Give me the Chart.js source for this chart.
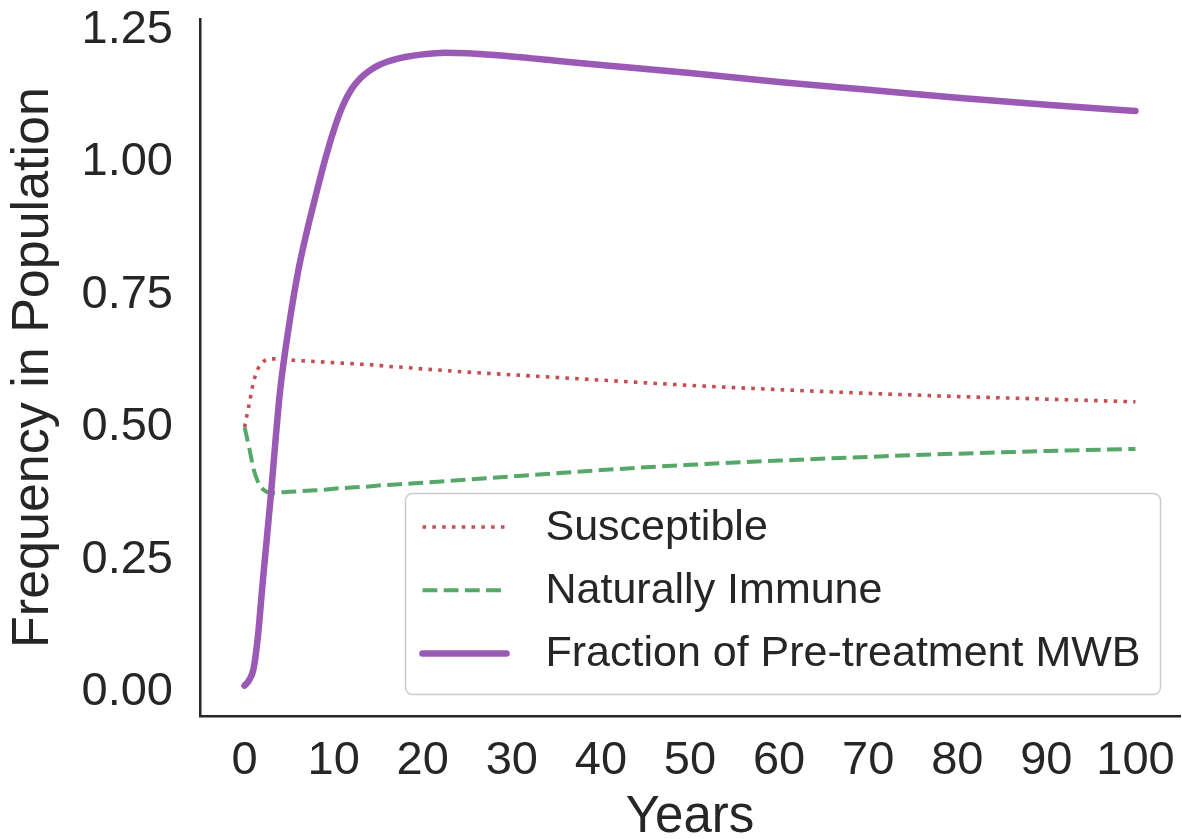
<!DOCTYPE html>
<html>
<head>
<meta charset="utf-8">
<script src="https://cdn.jsdelivr.net/npm/chart.js@4.4.1/dist/chart.umd.min.js"></script>
<style>
  html, body { margin: 0; padding: 0; background: #ffffff; overflow: hidden; }
  #wrap { width: 1182px; height: 839px; position: relative; }
</style>
</head>
<body>
<div id="wrap"><canvas id="chart"></canvas></div>
<script>
// Simulation output sampled over time (years)
const years = [0, 0.5, 1, 1.5, 2, 2.5, 3, 3.5, 4, 5, 6, 7, 8, 9, 10, 11, 12, 13, 14, 15, 16, 17, 18, 20, 22.5, 25, 30, 35, 40, 50, 60, 70, 80, 90, 100];

const susceptible = [0.5, 0.542, 0.585, 0.61, 0.622, 0.628, 0.629, 0.629, 0.628, 0.627, 0.626, 0.625, 0.624, 0.623, 0.622, 0.621, 0.62, 0.619, 0.618, 0.617, 0.615, 0.614, 0.613, 0.61, 0.607, 0.604, 0.599, 0.594, 0.589, 0.579, 0.571, 0.564, 0.558, 0.553, 0.548];

const naturallyImmune = [0.5, 0.463, 0.422, 0.397, 0.384, 0.378, 0.376, 0.376, 0.377, 0.378, 0.379, 0.38, 0.381, 0.382, 0.384, 0.385, 0.386, 0.387, 0.388, 0.39, 0.391, 0.392, 0.393, 0.395, 0.398, 0.401, 0.407, 0.413, 0.419, 0.429, 0.437, 0.444, 0.45, 0.455, 0.459];

const mwbFraction = [0.012, 0.022, 0.043, 0.105, 0.2, 0.29, 0.38, 0.48, 0.57, 0.693, 0.793, 0.87, 0.938, 1.003, 1.06, 1.106, 1.138, 1.159, 1.173, 1.183, 1.19, 1.195, 1.199, 1.204, 1.207, 1.206, 1.2, 1.192, 1.184, 1.169, 1.152, 1.137, 1.122, 1.109, 1.097];

const xTicks = [0, 10, 20, 30, 40, 50, 60, 70, 80, 90, 100];
const yTicks = [0, 0.25, 0.5, 0.75, 1.0, 1.25];

const seriesLabels = ['Susceptible', 'Naturally Immune', 'Fraction of Pre-treatment MWB'];

const ink = '#262626';
const FONT = "'Liberation Sans', Arial, Helvetica, sans-serif";

const toPoints = (vals) => years.map((t, i) => ({ x: t, y: vals[i] }));

// Legend drawn inside the plot area, lower right, matplotlib style
const boxLegend = {
  id: 'boxLegend',
  afterDraw(chart) {
    const { ctx, chartArea } = chart;
    const right = chartArea.right - 19.5;
    const bottom = chartArea.bottom - 21.5;
    const w = 755, h = 201;
    const left = right - w, top = bottom - h;
    ctx.save();
    ctx.beginPath();
    ctx.roundRect(left, top, w, h, 7);
    ctx.fillStyle = 'rgba(255,255,255,0.85)';
    ctx.fill();
    ctx.lineWidth = 1.5;
    ctx.strokeStyle = '#cccccc';
    ctx.stroke();

    [0, 1, 2].forEach((di, row) => {
      const ds = chart.data.datasets[di];
      const y = top + 33.5 + row * 63.3;
      ctx.beginPath();
      ctx.setLineDash(ds.borderDash || []);
      ctx.lineWidth = ds.borderWidth;
      ctx.strokeStyle = ds.borderColor;
      ctx.lineCap = ds.borderCapStyle || 'butt';
      ctx.moveTo(left + 17, y);
      ctx.lineTo(left + 101, y);
      ctx.stroke();
      ctx.setLineDash([]);
      ctx.fillStyle = ink;
      ctx.font = '43px ' + FONT;
      ctx.textAlign = 'left';
      ctx.textBaseline = 'middle';
      ctx.fillText(ds.label, left + 140, y + 1);
    });
    ctx.restore();
  }
};

new Chart(document.getElementById('chart'), {
  type: 'line',
  data: {
    datasets: [
      {
        label: seriesLabels[0],
        data: toPoints(susceptible),
        borderColor: '#c44e52',
        borderWidth: 3.6,
        borderDash: [3.6, 6.2],
        borderCapStyle: 'butt',
        pointRadius: 0,
        cubicInterpolationMode: 'monotone',
        fill: false,
        order: 2
      },
      {
        label: seriesLabels[1],
        data: toPoints(naturallyImmune),
        borderColor: '#55a868',
        borderWidth: 4,
        borderDash: [14.8, 6.4],
        borderCapStyle: 'butt',
        pointRadius: 0,
        cubicInterpolationMode: 'monotone',
        fill: false,
        order: 1
      },
      {
        label: seriesLabels[2],
        data: toPoints(mwbFraction),
        borderColor: '#9b59b6',
        borderWidth: 6.5,
        borderCapStyle: 'round',
        borderJoinStyle: 'round',
        pointRadius: 0,
        cubicInterpolationMode: 'monotone',
        fill: false,
        order: 0
      }
    ]
  },
  options: {
    responsive: true,
    maintainAspectRatio: false,
    animation: false,
    layout: { padding: { top: 19, right: 2, bottom: 0, left: 0 } },
    plugins: {
      legend: { display: false },
      tooltip: { enabled: false }
    },
    scales: {
      x: {
        type: 'linear',
        min: -5,
        max: 105,
        afterBuildTicks: (s) => { s.ticks = xTicks.map(v => ({ value: v })); },
        afterFit: (s) => { s.height = 123; s.paddingLeft = 0; s.paddingRight = 0; },
        grid: { display: false, drawTicks: false },
        border: { display: true, color: ink, width: 2.5 },
        ticks: {
          color: ink,
          padding: 17,
          maxRotation: 0,
          autoSkip: false,
          font: { family: FONT, size: 47 },
          callback: (v) => String(v)
        },
        title: {
          display: true,
          text: 'Years',
          color: ink,
          font: { family: FONT, size: 51 },
          padding: { top: 0, bottom: -10 }
        }
      },
      y: {
        type: 'linear',
        min: -0.0453,
        max: 1.2708,
        afterBuildTicks: (s) => { s.ticks = yTicks.map(v => ({ value: v })); },
        afterFit: (s) => { s.width = 200; s.paddingTop = 0; s.paddingBottom = 0; },
        grid: { display: false, drawTicks: false },
        border: { display: true, color: ink, width: 2.5 },
        ticks: {
          color: ink,
          padding: 27,
          autoSkip: false,
          font: { family: FONT, size: 47 },
          callback: (v) => Number(v).toFixed(2)
        },
        title: {
          display: true,
          text: 'Frequency in Population',
          color: ink,
          font: { family: FONT, size: 52 },
          padding: { top: 2, bottom: 0 }
        }
      }
    }
  },
  plugins: [boxLegend]
});
</script>
</body>
</html>
